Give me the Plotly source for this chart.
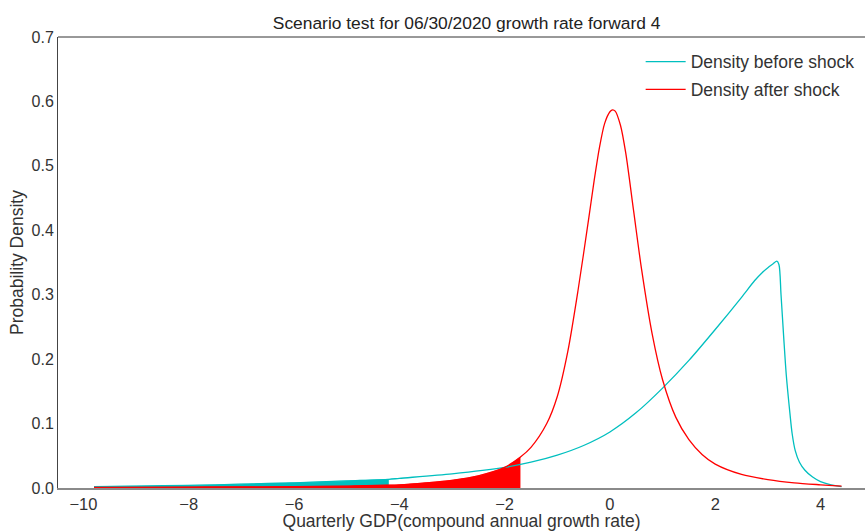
import plotly.graph_objects as go

# Density before shock (cyan)
x_before = [-9.8, -9.0, -8.0, -7.0, -6.0, -5.0, -4.2, -4.0, -3.0, -2.0, -1.5, -1.0, -0.5, 0.0,
            0.5, 1.0, 1.5, 2.0, 2.5, 2.75, 2.9, 3.0, 3.1, 3.17, 3.21, 3.25, 3.3, 3.35, 3.42,
            3.46, 3.52, 3.6, 3.7, 3.85, 4.0, 4.2, 4.4]
y_before = [0.002, 0.003, 0.004, 0.006, 0.008, 0.011, 0.0135, 0.015, 0.022, 0.032, 0.04, 0.051,
            0.066, 0.087, 0.117, 0.155, 0.198, 0.246, 0.296, 0.322, 0.335, 0.342, 0.348,
            0.352, 0.347, 0.3, 0.235, 0.175, 0.115, 0.085, 0.058, 0.04, 0.028, 0.017, 0.01,
            0.005, 0.002]

# Density after shock (red)
x_after = [-9.8, -8.0, -6.0, -5.0, -4.2, -4.0, -3.5, -3.0, -2.5, -2.0, -1.7, -1.5, -1.2, -1.0,
           -0.8, -0.6, -0.4, -0.3, -0.2, -0.1, 0.0, 0.05, 0.1, 0.2, 0.3, 0.45, 0.6, 0.8, 1.0,
           1.25, 1.5, 1.75, 2.0, 2.5, 3.0, 3.5, 4.0, 4.4]
y_after = [0.001, 0.0015, 0.002, 0.003, 0.0045, 0.005, 0.008, 0.012, 0.019, 0.032, 0.048, 0.063,
           0.1, 0.142, 0.212, 0.31, 0.42, 0.477, 0.528, 0.566, 0.584, 0.587, 0.585, 0.563,
           0.52, 0.43, 0.34, 0.24, 0.168, 0.11, 0.075, 0.052, 0.037, 0.021, 0.013, 0.008,
           0.005, 0.003]

cut_before = -4.2
cut_after = -1.7

title_text = "Scenario test for 06/30/2020 growth rate forward 4"
x_title = "Quarterly GDP(compound annual growth rate)"
y_title = "Probability Density"
x_ticks = [-10, -8, -6, -4, -2, 0, 2, 4]
y_ticks = [0.0, 0.1, 0.2, 0.3, 0.4, 0.5, 0.6, 0.7]

CYAN = "#00bfbf"
RED = "#ff0000"
FONT = "Liberation Sans, Arial, sans-serif"

fb_x = [x for x in x_before if x <= cut_before]
fb_y = [y for x, y in zip(x_before, y_before) if x <= cut_before]
fa_x = [x for x in x_after if x <= cut_after]
fa_y = [y for x, y in zip(x_after, y_after) if x <= cut_after]

fig = go.Figure()
fig.add_trace(go.Scatter(x=fb_x, y=fb_y, mode="lines", fill="tozeroy", fillcolor=CYAN,
                         line=dict(color=CYAN, width=0.5, shape="spline", smoothing=0.8),
                         showlegend=False, hoverinfo="skip"))
fig.add_trace(go.Scatter(x=fa_x, y=fa_y, mode="lines", fill="tozeroy", fillcolor=RED,
                         line=dict(color=RED, width=0.5, shape="spline", smoothing=0.8),
                         showlegend=False, hoverinfo="skip"))
fig.add_trace(go.Scatter(x=x_before, y=y_before, mode="lines", name="Density before shock",
                         legendgroup="a",
                         line=dict(color=CYAN, width=1.3, shape="spline", smoothing=0.8)))
fig.add_trace(go.Scatter(x=x_after, y=y_after, mode="lines", name="Density after shock",
                         legendgroup="b",
                         line=dict(color=RED, width=1.3, shape="spline", smoothing=0.8)))

fig.update_layout(
    width=865, height=531,
    margin=dict(l=58, r=0, t=37, b=43),
    paper_bgcolor="white", plot_bgcolor="white",
    font=dict(family=FONT, size=16, color="#333333"),
    title=dict(text=title_text, x=438 / 865, xanchor="center", xref="paper",
               y=1 - 23 / 531, yanchor="middle", yref="container",
               font=dict(size=17.4, color="#222222")),
    legend=dict(x=0.722, y=0.985, xanchor="left", yanchor="top",
                bgcolor="rgba(0,0,0,0)", font=dict(size=17.5, color="#333333"),
                tracegroupgap=2, itemwidth=40),
    xaxis=dict(range=[-10.484, 4.845], tickvals=x_ticks, showgrid=False, zeroline=False,
               showline=True, linecolor="#8a8a8a", linewidth=1.5, ticks="",
               title=dict(text=x_title, standoff=4, font=dict(size=17.5)),
               automargin=False, tickfont=dict(size=16.5)),
    yaxis=dict(range=[0, 0.7], tickvals=y_ticks, tickformat=".1f", showgrid=False,
               zeroline=False, showline=True, linecolor="#444444", linewidth=1, ticks="",
               title=dict(text=y_title, standoff=3, font=dict(size=17.5)),
               automargin=False, tickfont=dict(size=16)),
    shapes=[dict(type="line", xref="paper", yref="paper", x0=0, x1=1, y0=1, y1=1,
                 line=dict(color="#333333", width=1))],
)

fig.write_html("out.html")
